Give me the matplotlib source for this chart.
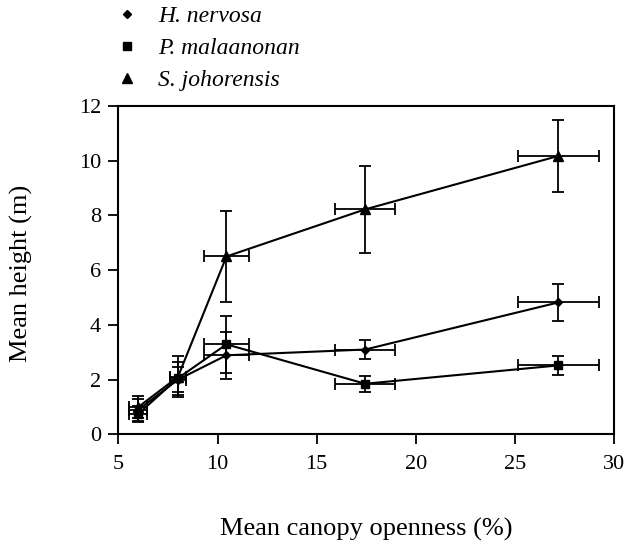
import matplotlib.pyplot as plt
from matplotlib.lines import Line2D

plt.rcParams['font.family'] = 'Liberation Serif'

species = ["H. nervosa", "P. malaanonan", "S. johorensis"]
markers = ["D", "s", "^"]
marker_sizes = [4.5, 6, 7.5]

openness = [6.0, 8.0, 10.45, 17.45, 27.2]
openness_se = [0.45, 0.4, 1.13, 1.53, 2.05]

height_hn = [0.9, 2.0, 2.89, 3.1, 4.82]
height_hn_se = [0.4, 0.45, 0.85, 0.33, 0.69]

height_pm = [0.75, 2.05, 3.29, 1.85, 2.52]
height_pm_se = [0.3, 0.6, 1.05, 0.3, 0.36]

height_sj = [1.0, 2.1, 6.5, 8.22, 10.17]
height_sj_se = [0.4, 0.75, 1.65, 1.6, 1.33]

heights = [height_hn, height_pm, height_sj]
errors = [height_hn_se, height_pm_se, height_sj_se]

fig = plt.figure(figsize=(6.44, 5.43), dpi=100)
ax = fig.add_axes([0.184, 0.2, 0.769, 0.605])

for h, e, m, ms in zip(heights, errors, markers, marker_sizes):
    ax.errorbar(openness, h, yerr=e, xerr=openness_se, color="black",
                marker=m, markersize=ms, linewidth=1.5, elinewidth=1.3,
                capsize=4, capthick=1.3)

ax.set_xlim(5, 30)
ax.set_ylim(0, 12)
ax.set_xticks([5, 10, 15, 20, 25, 30])
ax.set_yticks([0, 2, 4, 6, 8, 10, 12])
ax.tick_params(labelsize=16, width=1.3, length=7.5)
ax.tick_params(axis="x", pad=7)
ax.tick_params(axis="y", pad=5)
for s in ax.spines.values():
    s.set_linewidth(1.5)

ax.set_xlabel("Mean canopy openness (%)", fontsize=19, va="center")
ax.set_ylabel("Mean height (m)", fontsize=19, va="center")
ax.xaxis.set_label_coords(0.5, -0.288)
ax.yaxis.set_label_coords(-0.195, 0.49)

handles = [Line2D([], [], color="black", marker=m, markersize=ms, linestyle="none")
           for m, ms in zip(markers, marker_sizes)]
fig.legend(handles, species, loc="upper left", bbox_to_anchor=(0.179, 0.99),
           frameon=False, prop={"style": "italic", "size": 17},
           borderpad=0, borderaxespad=0, handlelength=1.0,
           handletextpad=0.8, labelspacing=0.45)

fig.savefig("out.png", dpi=100)
